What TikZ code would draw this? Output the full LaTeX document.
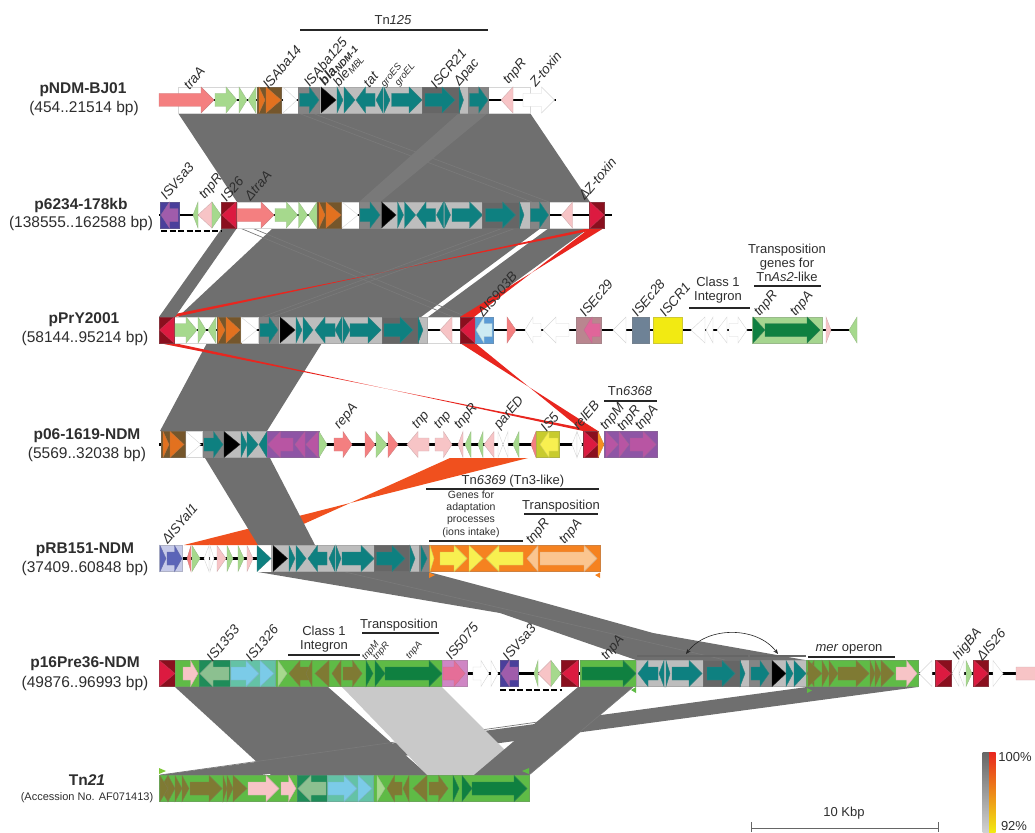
\documentclass[tikz,border=0pt]{standalone}
\usepackage{fontspec}
\setmainfont{Liberation Sans}
\usetikzlibrary{arrows.meta}
\definecolor{rib}{HTML}{6F6F6F}
\definecolor{ribl}{HTML}{797979}
\definecolor{ribpale}{HTML}{C9C9C9}
\definecolor{rred}{HTML}{E8261F}
\definecolor{rorange}{HTML}{F0501E}
\definecolor{txt}{HTML}{2E2E2E}
\definecolor{teal2}{HTML}{0E8080}
\definecolor{lgreen}{HTML}{A6D98D}
\definecolor{salmon}{HTML}{F47F80}
\definecolor{pinkg}{HTML}{F7C4C6}
\definecolor{brownb}{HTML}{75562B}
\definecolor{orangeg}{HTML}{E2711F}
\definecolor{gdark}{HTML}{666666}
\definecolor{gmid}{HTML}{858585}
\definecolor{glight}{HTML}{BDBDBD}
\definecolor{crimson2}{HTML}{DC1A40}
\definecolor{dred}{HTML}{8A0F1E}
\definecolor{purpb}{HTML}{8E55A5}
\definecolor{purpa}{HTML}{B855A3}
\definecolor{indigo2}{HTML}{4A3F9B}
\definecolor{purpl}{HTML}{A05CAB}
\definecolor{blueb}{HTML}{5B9BD5}
\definecolor{cyanl}{HTML}{CDEBF3}
\definecolor{rosebox}{HTML}{B9868F}
\definecolor{roseg}{HTML}{E0659A}
\definecolor{slate}{HTML}{6E8296}
\definecolor{yellowb}{HTML}{F2EA12}
\definecolor{dgreen}{HTML}{0F8040}
\definecolor{ybox}{HTML}{C8CB2E}
\definecolor{yarrow}{HTML}{F8F050}
\definecolor{orangeb}{HTML}{F58220}
\definecolor{peach}{HTML}{FBC58F}
\definecolor{perib}{HTML}{C6CAE9}
\definecolor{peria}{HTML}{5B64B8}
\definecolor{orangeh}{HTML}{F7901E}
\definecolor{bgreen}{HTML}{5FBB46}
\definecolor{olive2}{HTML}{7F7A33}
\definecolor{tnbox}{HTML}{1F8C59}
\definecolor{tna}{HTML}{8CC090}
\definecolor{tealb}{HTML}{64C2A6}
\definecolor{skyb}{HTML}{7BCBE8}
\definecolor{magb}{HTML}{CF86C4}
\definecolor{magg}{HTML}{E56E98}
\definecolor{gbox}{HTML}{A5D58F}
\tikzset{
  gene/.style={fill=#1,draw=#1!68!gray,line width=.4pt,line join=miter},
  rb/.style={fill=rib,draw=none},
  rbl/.style={draw=ribl,line width=.7pt},
  glab/.style={text=txt,anchor=west,rotate=50,inner sep=0pt,font=\fontsize{13.5}{14}\selectfont\itshape},
  glabs/.style={text=txt,anchor=west,rotate=50,inner sep=0pt,font=\fontsize{9.5}{10}\selectfont\itshape},
  ttl/.style={text=txt,inner sep=0pt,align=center,font=\fontsize{13}{14}\selectfont},
  rowb/.style={text=txt,inner sep=0pt,font=\fontsize{15.5}{16}\selectfont\bfseries},
  rowt/.style={text=txt,inner sep=0pt,font=\fontsize{15.5}{16}\selectfont},
  hbar/.style={draw=black!85,line width=1.6pt},
  trk/.style={draw=black,line width=2.2pt},
  dsh/.style={draw=black,line width=1.6pt,dash pattern=on 6pt off 2.5pt},
  mark/.style={fill=#1,draw=none}
}
\newcommand\ry{0}
\newcommand\GBx[3]{\draw[gene=#3] (#1,\ry-13) rectangle (#2,\ry+13);}
\newcommand\GAr[3]{\pgfmathsetmacro\hdl{min(0.5*(#2-#1),13)}\pgfmathsetmacro\nck{#2-\hdl}%
  \draw[gene=#3] (#1,\ry-6.5) -- (\nck,\ry-6.5) -- (\nck,\ry-13) -- (#2,\ry) -- (\nck,\ry+13) -- (\nck,\ry+6.5) -- (#1,\ry+6.5) -- cycle;}
\newcommand\GAl[3]{\pgfmathsetmacro\hdl{min(0.5*(#2-#1),13)}\pgfmathsetmacro\nck{#1+\hdl}%
  \draw[gene=#3] (#2,\ry-6.5) -- (\nck,\ry-6.5) -- (\nck,\ry-13) -- (#1,\ry) -- (\nck,\ry+13) -- (\nck,\ry+6.5) -- (#2,\ry+6.5) -- cycle;}
\newcommand\GTr[3]{\draw[gene=#3] (#1,\ry-13) -- (#2,\ry) -- (#1,\ry+13) -- cycle;}
\newcommand\GTl[3]{\draw[gene=#3] (#2,\ry-13) -- (#1,\ry) -- (#2,\ry+13) -- cycle;}
\newcount\lblno
\newcommand\GL[4][glab]{\global\advance\lblno by 1 \node[#1] (lab\the\lblno) at (#2,#3) {#4};}
\newcommand\TT[4][ttl]{\global\advance\lblno by 1 \node[#1] (lab\the\lblno) at (#2,#3) {#4};}
\newcommand\HB[3]{\draw[hbar] (#1,#3) -- (#2,#3);}
\begin{document}
\begin{tikzpicture}[x=1pt,y=-1pt]
\useasboundingbox (0,0) rectangle (1035,832);
\clip (0,0) rectangle (1035,832);
% ---------- ribbons
\fill[rb] (178,113) -- (530,113) -- (590,202) -- (237,202) -- cycle;
\draw[rbl] (298,113) -- (532,202);
\draw[rbl] (312,113) -- (549,202);
\fill[ribl] (459,113) -- (488,113) -- (380,202) -- (359,202) -- cycle;
\fill[rb] (273,228) -- (541,228) -- (421,317) -- (178,317) -- cycle;
\fill[rb] (549,228) -- (589,228) -- (467,317) -- (428,317) -- cycle;
\draw[rbl] (240,228) -- (453,317);
\draw[rbl] (252,228) -- (467,317);
\draw[rbl] (262,317) -- (503,228);
\draw[rbl] (272,317) -- (516,228);
\fill[rred] (590,228) -- (604,228) -- (160,317) -- (175,317) -- cycle;
\fill[rred] (590,228) -- (604,228) -- (460,317) -- (474,317) -- cycle;
\fill[rb] (222,228) -- (237,228) -- (175,317) -- (159,317) -- cycle;
\fill[rb] (207,343) -- (322,343) -- (267,431) -- (160,431) -- cycle;
\fill[rred] (159,343) -- (174,343) -- (583,431) -- (597,431) -- cycle;
\fill[rred] (460,343) -- (475,343) -- (583,431) -- (598,431) -- cycle;
\fill[rorange] (450,458) -- (528,458) -- (184,545) -- (257,545) -- cycle;
\fill[rb] (205,458) -- (270,458) -- (315,545) -- (258,545) -- cycle;
\fill[rb] (258,572) -- (429,572) -- (534,600) -- (653,633) -- (805,660) -- (636,660) -- (500,613) -- cycle;
\draw[rbl] (345,572) -- (725,660);
\fill[rb] (175,687) -- (328,687) -- (428,775) -- (271,775) -- cycle;
\fill[rb] (807,687) -- (918,687) -- (261,775) -- (160,775) -- cycle;
\draw[rbl] (602,713) -- (160,775);
\fill[ribpale] (342,687) -- (442,687) -- (530,775) -- (427,775) -- cycle;
\fill[rb] (578,687) -- (633,687) -- (529,775) -- (474,775) -- cycle;
\draw[rbl] (633,687) -- (529,775);
% ---------- row 1
\renewcommand\ry{100}
\GBx{178}{298}{white}\GBx{488}{530}{white}
\draw[trk] (159,\ry) -- (556,\ry);
\GAr{159}{214}{salmon}\GAr{215}{237}{lgreen}\GTr{239}{247}{lgreen}\GTl{248}{256}{lgreen}
\GBx{257}{281.5}{brownb}\GTr{259}{265}{orangeg}\GTr{266}{281}{orangeg}
\GTr{283}{297}{white}
\GBx{298.5}{488.5}{glight}\GBx{298.5}{319.5}{gmid}\GAr{299.5}{319}{teal2}
\GTr{321}{336}{black}\GTr{337}{343}{teal2}\GTr{344}{355}{teal2}\GAl{356}{375}{teal2}\GTl{376}{383}{teal2}\GTr{384}{390}{teal2}\GAr{391.5}{422}{teal2}
\GBx{422}{459}{gdark}\GAr{425}{455}{teal2}\GTr{459}{463.5}{teal2}
\GBx{468.5}{488.5}{gmid}\GAr{469.5}{488}{teal2}
\GTl{501}{513}{pinkg}\GAr{523}{554.5}{white}
% ---------- row 2
\renewcommand\ry{215}
\GBx{237}{359}{white}\GBx{549}{590}{white}
\draw[trk] (159,\ry) -- (612,\ry);
\GBx{160}{179}{indigo2}\GAl{161}{178}{purpl}
\GTl{193}{198}{lgreen}\GTl{198}{212}{pinkg}\GTr{212}{221}{lgreen}
\GBx{221.5}{236.5}{dred}\GTl{222}{236}{crimson2}
\GAr{237}{274}{salmon}\GAr{275}{297.5}{lgreen}\GTr{298.5}{307.5}{lgreen}\GTl{308.5}{317}{lgreen}
\GBx{317.5}{341}{brownb}\GTr{319}{325}{orangeg}\GTr{326}{341}{orangeg}
\GTr{342}{358}{white}
\GBx{359}{549}{glight}\GBx{359}{380.5}{gmid}\GAr{360}{380}{teal2}
\GTr{381.5}{396}{black}\GTr{397.5}{403.5}{teal2}\GTr{404.5}{415.5}{teal2}\GAl{416.5}{435.5}{teal2}\GTl{436.5}{443.5}{teal2}\GTr{444.5}{450.5}{teal2}\GAr{452}{482.5}{teal2}
\GBx{482.5}{519}{gdark}\GAr{485.5}{515.5}{teal2}\GTr{519.5}{524}{teal2}
\GBx{530}{549}{gmid}\GAr{530.5}{548.5}{teal2}
\GTl{561.5}{572.5}{pinkg}
\GBx{589}{604}{dred}\GTr{590}{604}{crimson2}
\draw[dsh] (161,231) -- (221,231);
% ---------- row 3
\renewcommand\ry{330}
\GBx{174}{217}{white}\GBx{241}{258}{white}\GBx{427}{460}{white}
\draw[trk] (159,\ry) -- (857,\ry);
\GBx{159}{174}{dred}\GTl{159.5}{174}{crimson2}
\GAr{175}{197}{lgreen}\GTr{198}{206}{lgreen}\GTl{208}{216}{lgreen}
\GBx{217}{241}{brownb}\GTr{218}{225}{orangeg}\GTr{226}{240}{orangeg}
\GTr{241}{257}{white}
\GBx{259}{427}{glight}\GBx{259}{278}{gmid}\GAr{260}{278}{teal2}
\GTr{280}{295}{black}\GTr{296}{302}{teal2}\GTr{303}{313}{teal2}\GAl{315}{335}{teal2}\GTl{335}{342}{teal2}\GTr{343}{350}{teal2}\GAr{350}{381}{teal2}
\GBx{382}{418}{gdark}\GAr{384}{413}{teal2}\GTr{418}{423}{teal2}
\GTl{440}{452}{pinkg}
\GBx{460}{475}{dred}\GTl{460.5}{475}{crimson2}
\GBx{475}{493}{blueb}\GAl{476}{492}{cyanl}
\GTr{507}{516}{salmon}\GAl{525}{541}{white}\GAl{543}{569}{white}
\GBx{576}{601}{rosebox}\GAl{584}{600}{roseg}
\GTl{613}{626}{white}
\GBx{632}{649}{slate}\GBx{653}{682}{yellowb}
\GTl{691}{705}{white}\GTl{706}{713}{white}\GTl{717}{727}{white}\GAr{729}{747}{white}
\GBx{752}{822}{gbox}\GTr{753}{765}{dgreen}\GAr{765}{820}{dgreen}
\GTr{826}{831}{pinkg}\GTl{849}{857}{lgreen}
% ---------- row 4
\renewcommand\ry{444.5}
\GBx{186}{202}{white}
\draw[trk] (159,\ry) -- (657,\ry);
\GBx{161}{185}{brownb}\GTr{163}{169}{orangeg}\GTr{170}{184}{orangeg}
\GTr{186}{201}{white}
\GBx{203}{267}{glight}\GBx{203}{223}{gmid}\GAr{204}{223}{teal2}
\GTr{224}{240}{black}\GTr{241}{247}{teal2}\GTr{247}{258}{teal2}\GTl{259}{267}{teal2}
\GBx{267}{319}{purpb}\GAl{268}{293}{purpa}\GTl{295}{305}{purpa}\GTl{306}{318}{purpa}
\GTr{319}{327}{lgreen}
\GAr{334}{352}{salmon}\GTr{365}{375}{salmon}\GTr{376}{387}{lgreen}\GTr{388}{398}{salmon}
\GAl{407}{429}{pinkg}\GAr{435}{452}{pinkg}\GTl{458}{463}{pinkg}\GTl{465}{471}{lgreen}\GTl{478}{483}{lgreen}\GTl{484}{494}{pinkg}
\GTr{498}{503}{white}\GTl{503}{508}{white}\GTl{513}{519}{lgreen}\GTl{531}{536}{salmon}
\GBx{536}{559}{ybox}\GAl{540}{558}{yarrow}
\GTl{572}{577}{white}\GTr{577}{582}{white}
\GBx{583}{598}{dred}\GTr{584}{598}{crimson2}\GTr{598}{604}{orangeh}
\GBx{604}{657}{purpb}\GTr{606}{618}{purpa}\GTr{619}{629}{purpa}\GAr{630}{656}{purpa}
% ---------- row 5
\renewcommand\ry{558.5}
\draw[trk] (159,\ry) -- (258,\ry);
\GBx{159}{182}{perib}\GTr{160}{166}{peria}\GAr{167}{182}{peria}
\GTl{187}{191}{salmon}\GTr{192}{200}{lgreen}\GTl{204}{209}{white}\GTr{210}{214}{white}\GTr{217}{226}{pinkg}\GTr{227}{233}{lgreen}\GTr{238}{244}{lgreen}\GTr{247}{253}{pinkg}
\GBx{271}{429}{glight}\GTr{257}{271}{teal2}\GTr{273}{287.5}{black}\GTr{289}{295}{teal2}\GTr{296}{306}{teal2}\GAl{308}{327}{teal2}\GTl{329}{335}{teal2}\GTr{336}{341}{teal2}\GAr{342}{374}{teal2}
\GBx{374}{409}{gdark}\GAr{376.5}{405}{teal2}\GTr{410}{415}{teal2}\GBx{419}{429}{gmid}\GTr{421}{427}{teal2}
\GBx{429}{600}{orangeb}\GTr{430}{434}{yarrow}\GAr{440}{467}{yarrow}\GTr{469}{483}{yarrow}\GAl{486}{523}{yarrow}
\GTl{527}{538}{peach}\GAr{540}{597}{peach}
\fill[mark=orangeb] (429,572.5) -- (435,575) -- (429,578) -- cycle;
\fill[mark=orangeb] (600,572.5) -- (595,575) -- (600,578) -- cycle;
% ---------- row 6
\renewcommand\ry{673.5}
\draw[trk] (467,\ry) -- (500,\ry) (519,\ry) -- (561,\ry) (578,\ry) -- (580,\ry) (918,\ry) -- (1035,\ry);
\GBx{159}{175}{dred}\GTr{159.5}{175}{crimson2}
\GBx{175}{442}{bgreen}\GAr{183}{198}{pinkg}
\GBx{199}{230}{tnbox}\GAl{200}{229}{tna}
\GBx{230}{275}{tealb}\GAr{231}{259}{skyb}\GTr{260}{274}{skyb}
\GTr{278}{287}{lgreen}\GAl{289}{311}{olive2}\GTl{306}{312}{olive2}\GTl{315}{329}{olive2}\GTl{332}{341}{olive2}\GAr{343}{362}{olive2}
\GTr{366}{373}{dgreen}\GTr{375}{385}{dgreen}\GAr{385}{442}{dgreen}
\GBx{442}{467}{magb}\GAr{443}{465}{magg}
\GAr{473}{489}{white}\GTr{491}{498}{white}
\GBx{500}{518.5}{indigo2}\GAl{501}{518}{purpl}
\GTl{534}{538}{lgreen}\GTl{538}{551}{pinkg}\GTr{551}{561}{lgreen}
\GBx{561}{578}{dred}\GTl{562}{578}{crimson2}
\GBx{580}{636.5}{bgreen}\GAr{582}{636}{dgreen}
\GBx{636.5}{806}{glight}\GAl{638}{658}{teal2}\GTl{659}{664}{teal2}\GTr{666}{670}{teal2}\GAr{672}{702}{teal2}
\GBx{703}{740}{gdark}\GAr{707}{735}{teal2}\GTr{740}{745}{teal2}
\GBx{749}{771}{gmid}\GAr{751}{769}{teal2}\GTr{772}{786}{black}\GTr{786}{793}{teal2}\GTr{794}{806}{teal2}
\GBx{806}{918}{bgreen}\GTl{807}{814}{olive2}\GTr{808}{822}{olive2}\GTr{822}{829}{olive2}\GTr{829}{838}{olive2}\GAr{838}{869}{olive2}\GTr{870}{875}{olive2}\GTr{875}{881}{olive2}\GTr{881}{894}{olive2}
\GAr{896}{917}{pinkg}
\GTl{919}{932}{white}\GBx{935}{951}{dred}\GTr{936}{951}{crimson2}
\GTl{952}{959}{white}\GTl{959}{964}{white}\GTr{966}{972}{lgreen}
\GBx{973}{988}{dred}\GTr{974}{988}{crimson2}\GTr{993}{1003}{white}
\GAr{1016}{1050}{pinkg}
\draw[dsh] (500,690) -- (562,690);
\fill[mark=bgreen] (636,687) -- (631,690) -- (636,693) -- cycle;
\fill[mark=bgreen] (807,688) -- (812,690.5) -- (807,693) -- cycle;
% ---------- row 7
\renewcommand\ry{788.5}
\GBx{159}{529}{bgreen}
\GTl{160}{168}{olive2}\GTr{160}{168}{olive2}\GTr{168}{175}{olive2}\GTr{175}{182}{olive2}\GTr{182}{189}{olive2}\GAr{190}{222}{olive2}\GTr{223}{227}{olive2}\GTr{227}{233}{olive2}\GTr{233}{247}{olive2}
\GAr{248}{279}{pinkg}\GAr{281}{296}{pinkg}
\GBx{297}{327}{tnbox}\GAl{298}{326}{tna}
\GBx{327}{373}{tealb}\GAr{328}{357}{skyb}\GTr{358}{372}{skyb}
\GTr{377}{385}{lgreen}\GAl{387}{402}{olive2}\GTl{403}{409}{olive2}\GTl{413}{427}{olive2}\GAr{429}{448}{olive2}
\GTr{453}{459}{dgreen}\GTr{462}{472}{dgreen}\GAr{472}{527}{dgreen}
\fill[mark=bgreen!80!yellow] (159,768) -- (166,771) -- (159,774) -- cycle;
\fill[mark=bgreen] (529,768) -- (522,771) -- (529,774) -- cycle;
% ---------- row titles
\TT[rowb]{83}{90}{pNDM-BJ01}\TT[rowt]{84}{108}{(454..21514 bp)}
\TT[rowb]{81}{205}{p6234-178kb}\TT[rowt]{81}{223}{(138555..162588 bp)}
\TT[rowb]{84}{320}{pPrY2001}\TT[rowt]{85}{338}{(58144..95214 bp)}
\TT[rowb]{87}{436}{p06-1619-NDM}\TT[rowt]{87}{454}{(5569..32038 bp)}
\TT[rowb]{85}{550}{pRB151-NDM}\TT[rowt]{85}{568}{(37409..60848 bp)}
\TT[rowb]{85}{664}{p16Pre36-NDM}\TT[rowt]{85}{683}{(49876..96993 bp)}
\TT[rowb]{87}{780}{Tn\textit{21}}
\TT[text=txt,inner sep=0pt,font=\fontsize{11}{12}\selectfont]{87}{798}{(Accession No. AF071413)}
% ---------- annotations
\TT{393}{20}{Tn\textit{125}}\HB{300}{488}{30}
\GL{186}{88}{traA}\GL{265}{87}{ISAba14}\GL{306}{85}{ISAba125}
\GL{322}{84}{\textbf{bla}\textsubscript{\textbf{NDM-1}}}\GL{336}{85}{ble\textsubscript{MBL}}
\GL{366}{86}{tat}\GL[glabs]{383}{86}{groES}\GL[glabs]{397}{85}{groEL}
\GL{433}{87}{ISCR21}\GL{457}{85}{Δpac}\GL{506}{83}{tnpR}\GL{532}{85}{Z-toxin}
\GL{163}{198}{ISVsa3}\GL{202}{198}{tnpR}\GL{223}{200}{IS26}\GL{247}{199}{ΔtraA}\GL{581}{198}{ΔZ-toxin}
\GL{480}{315}{ΔIS903B}\GL{582}{315}{ISEc29}\GL{634}{315}{ISEc28}\GL{662}{315}{ISCR1}\GL{757}{315}{tnpR}\GL{793}{315}{tnpA}
\TT{718}{290}{Class 1\\Integron}\HB{689}{750}{308}
\TT{787}{263}{Transposition\\genes for\\Tn\textit{As2}-like}\HB{754}{821}{286}
\GL{337}{428}{repA}\GL{415}{428}{tnp}\GL{437}{428}{tnp}\GL{457}{428}{tnpR}\GL{497}{428}{parED}\GL{543}{430}{IS5}\GL{575}{428}{relEB}
\GL{603}{429}{tnpM}\GL{620}{430}{tnpR}\GL{638}{429}{tnpA}
\TT{630}{391}{Tn\textit{6368}}\HB{604}{657}{401}
\GL{164}{542}{ΔISYal1}
\TT{513}{481}{Tn\textit{6369} (Tn3-like)}\HB{426}{599}{489}
\TT[ttl,font=\fontsize{10.5}{12.4}\selectfont]{471}{514}{Genes for\\adaptation\\processes\\(ions intake)}\HB{429}{523}{541}
\TT{561}{506}{Transposition}\HB{524}{598}{514}
\GL{529}{543}{tnpR}\GL{562}{543}{tnpA}
\GL{209}{660}{IS1353}\GL{248}{660}{IS1326}
\TT{324}{639}{Class 1\\Integron}\HB{288}{360}{655}
\TT{399}{625}{Transposition}\HB{362}{439}{633}
\GL[glabs]{364}{659}{tnpM}\GL[glabs]{375}{659}{tnpR}\GL[glabs]{408}{658}{tnpA}
\GL{448}{658}{IS5075}\GL{505}{659}{ISVsa3}\GL{604}{659}{tnpA}
\draw[draw=gdark,line width=1.6pt] (637,656) -- (748,656) (750,656) -- (806,656);
\coordinate (arcA) at (686,654);\coordinate (arcB) at (778,654);
\draw[black!85,line width=.6pt,{Stealth[length=5pt,width=4pt]}-{Stealth[length=5pt,width=4pt]}] (arcA) .. controls (707,626) and (757,626) .. (arcB);
\TT{849}{649}{\textit{mer} operon}\HB{808}{895}{657}
\GL{956}{658}{higBA}\GL{979}{659}{ΔIS26}
% ---------- scale and legend
\TT{844}{813}{10 Kbp}
\coordinate (scA) at (751,828);\coordinate (scB) at (938,828);
\draw[gdark,line width=.7pt] (scA) -- (scB) (751,822) -- (751,832) (938,822) -- (938,832);
\shade[top color=gdark,bottom color=glight!70] (982.5,752) rectangle (989,832);
\shade[top color=rred,middle color=orangeh,bottom color=yellowb] (989,752) rectangle (995.5,832);
\TT{1015}{757}{100\%}\TT{1014}{826}{92\%}
\end{tikzpicture}
\end{document}
